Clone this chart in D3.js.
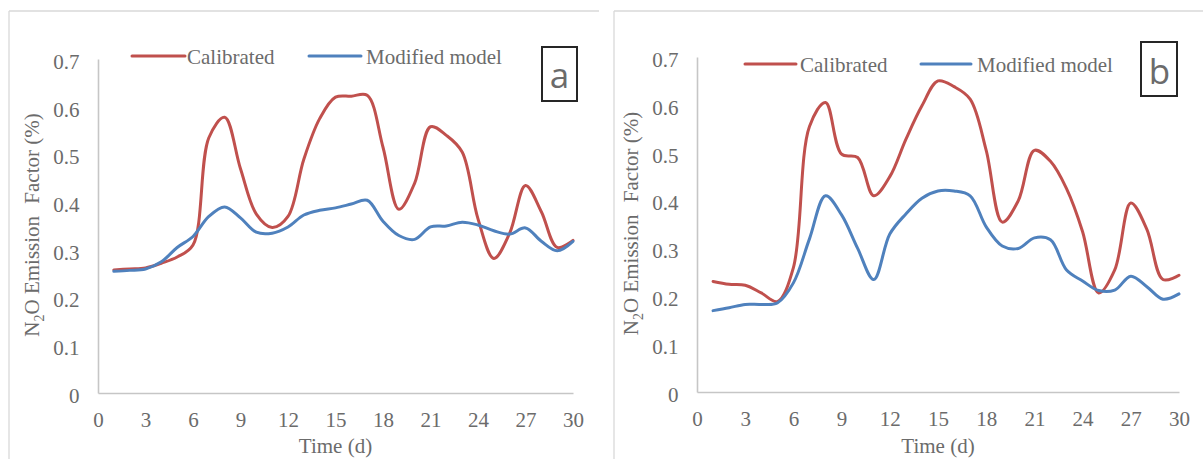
<!DOCTYPE html>
<html>
<head>
<meta charset="utf-8">
<script src="https://cdn.jsdelivr.net/npm/d3@7"></script>
<style>
  html, body { margin: 0; padding: 0; background: #ffffff; }
  svg { display: block; }
  text { font-family: "Liberation Serif", "Times New Roman", serif; fill: #6b6b6b; }
</style>
</head>
<body>
<svg id="chart" width="1203" height="459"></svg>
<script>
// ---------------- data ----------------
const days = [1,2,3,4,5,6,7,8,9,10,11,12,13,14,15,16,17,18,19,20,21,22,23,24,25,26,27,28,29,30];
const xTicks = [0,3,6,9,12,15,18,21,24,27,30];
const yTicks = [0,0.1,0.2,0.3,0.4,0.5,0.6,0.7];
const seriesNames = ["Calibrated", "Modified model"];
const panelLabels = ["a", "b"];
const xTitle = "Time (d)";

const calibratedA = [0.258,0.260,0.262,0.272,0.285,0.310,0.535,0.578,0.470,0.375,0.347,0.370,0.490,0.575,0.620,0.622,0.624,0.515,0.385,0.440,0.558,0.540,0.505,0.365,0.282,0.335,0.435,0.380,0.305,0.320];
const modifiedA   = [0.255,0.257,0.260,0.275,0.305,0.328,0.370,0.390,0.367,0.337,0.335,0.348,0.373,0.383,0.388,0.396,0.404,0.360,0.330,0.322,0.348,0.350,0.358,0.352,0.340,0.333,0.346,0.318,0.298,0.318];

const calibratedB = [0.231,0.225,0.223,0.207,0.189,0.260,0.555,0.605,0.497,0.490,0.410,0.450,0.528,0.598,0.650,0.638,0.612,0.505,0.355,0.400,0.505,0.482,0.425,0.335,0.207,0.255,0.395,0.340,0.235,0.244];
const modifiedB   = [0.170,0.176,0.183,0.183,0.186,0.228,0.320,0.410,0.370,0.300,0.235,0.330,0.372,0.405,0.420,0.420,0.410,0.345,0.305,0.300,0.322,0.318,0.255,0.232,0.212,0.213,0.242,0.220,0.194,0.205];

const colors = ["#c0504d", "#4f81bd"];

// ---------------- layout ----------------
const svg = d3.select("#chart");

const panels = [
  { label: panelLabels[0], series: [calibratedA, modifiedA],
    border: {x: 9, y: 11, x2: 599},
    plot: {x0: 98, x1: 573, y0: 393, y1: 59},
    yTitleX: 38.5,
    legend: {y: 56, items: [{l0: 132, l1: 185, tx: 187}, {l0: 309, l1: 361, tx: 366}]},
    box: {x: 542, y: 47, w: 35, h: 54, tx: 559.5, ty: 87.5} },
  { label: panelLabels[1], series: [calibratedB, modifiedB],
    border: {x: 614, y: 11, x2: 1203},
    plot: {x0: 697, x1: 1179, y0: 392, y1: 57},
    yTitleX: 637.5,
    legend: {y: 64, items: [{l0: 745, l1: 796, tx: 800}, {l0: 921, l1: 971, tx: 977}]},
    box: {x: 1141, y: 42, w: 36, h: 54, tx: 1159.5, ty: 83.5} }
];

panels.forEach(p => {
  const g = svg.append("g");

  // panel border (top + left visible)
  g.append("line").attr("x1", p.border.x).attr("x2", p.border.x2)
    .attr("y1", p.border.y).attr("y2", p.border.y)
    .attr("stroke", "#d9d9d9").attr("stroke-width", 1.3);
  g.append("line").attr("x1", p.border.x).attr("x2", p.border.x)
    .attr("y1", p.border.y).attr("y2", 459)
    .attr("stroke", "#d9d9d9").attr("stroke-width", 1.3);

  const x = d3.scaleLinear().domain([0, 30]).range([p.plot.x0, p.plot.x1]);
  const y = d3.scaleLinear().domain([0, 0.7]).range([p.plot.y0, p.plot.y1]);

  // axes
  const xAxis = d3.axisBottom(x).tickValues(xTicks).tickSize(0).tickPadding(0).tickFormat(d3.format("d"));
  const yAxis = d3.axisLeft(y).tickValues(yTicks).tickSize(0).tickPadding(0).tickFormat(d => d === 0 ? "0" : d3.format(".1f")(d));

  const gx = g.append("g").attr("transform", `translate(0,${p.plot.y0})`).call(xAxis);
  gx.select(".domain").attr("stroke", "#c6c6c6").attr("stroke-width", 1.6);
  gx.selectAll(".tick text")
    .attr("font-family", "Liberation Serif, Times New Roman, serif")
    .attr("font-size", 21).attr("fill", "#6b6b6b")
    .attr("dy", null).attr("y", 33.5);

  const gy = g.append("g").attr("transform", `translate(${p.plot.x0},0)`).call(yAxis);
  gy.select(".domain").attr("stroke", "#c6c6c6").attr("stroke-width", 1.6);
  gy.selectAll(".tick text")
    .attr("font-family", "Liberation Serif, Times New Roman, serif")
    .attr("font-size", 21).attr("fill", "#6b6b6b")
    .attr("dy", null).attr("x", -18.5).attr("y", 9.4);

  // axis titles
  g.append("text")
    .attr("x", (p.plot.x0 + p.plot.x1) / 2).attr("y", 453)
    .attr("text-anchor", "middle").attr("font-size", 21)
    .text(xTitle);

  const yc = (p.plot.y0 + p.plot.y1) / 2 - 1;
  const yt = g.append("text")
    .attr("transform", `translate(${p.yTitleX},${yc}) rotate(-90)`)
    .attr("text-anchor", "middle").attr("font-size", 21);
  yt.append("tspan").text("N");
  yt.append("tspan").attr("font-size", 14).attr("dy", 5).text("2");
  yt.append("tspan").attr("dy", -5).text("O Emission");
  yt.append("tspan").attr("dx", 7).text(" Factor (%)");

  // lines
  const line = d3.line()
    .x((d, i) => x(days[i]))
    .y(d => y(d))
    .curve(d3.curveCatmullRom.alpha(0.5));

  p.series.forEach((s, k) => {
    g.append("path").datum(s)
      .attr("d", line)
      .attr("fill", "none")
      .attr("stroke", colors[k])
      .attr("stroke-width", 3)
      .attr("stroke-linejoin", "round")
      .attr("stroke-linecap", "round");
  });

  // legend
  p.legend.items.forEach((it, k) => {
    g.append("line").attr("x1", it.l0).attr("x2", it.l1)
      .attr("y1", p.legend.y).attr("y2", p.legend.y)
      .attr("stroke", colors[k]).attr("stroke-width", 3).attr("stroke-linecap", "round");
    g.append("text").attr("x", it.tx).attr("y", p.legend.y + 7.5)
      .attr("font-size", 21).text(seriesNames[k]);
  });

  // panel label box
  g.append("rect").attr("x", p.box.x).attr("y", p.box.y)
    .attr("width", p.box.w).attr("height", p.box.h)
    .attr("fill", "#ffffff").attr("stroke", "#262626").attr("stroke-width", 2);
  g.append("text").attr("x", p.box.tx).attr("y", p.box.ty)
    .attr("text-anchor", "middle")
    .style("font-family", "'Open Sans', Roboto, sans-serif")
    .attr("font-size", 35).attr("fill", "#666666")
    .text(p.label);
});
</script>
</body>
</html>
